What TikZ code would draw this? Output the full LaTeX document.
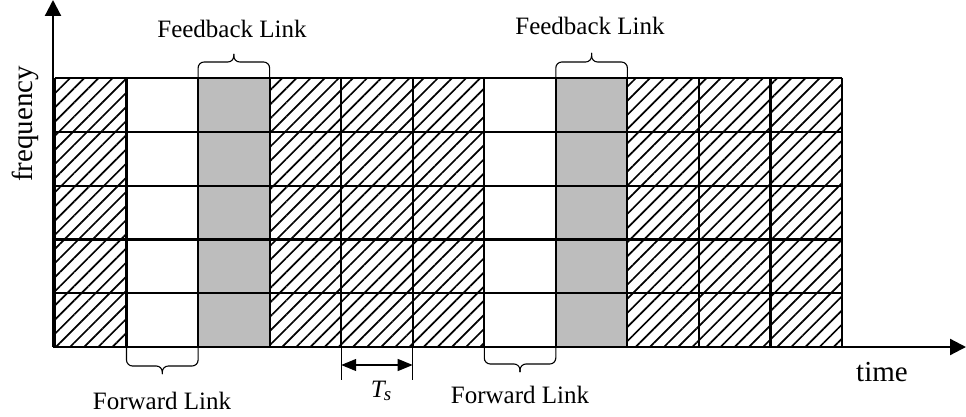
\documentclass[tikz,border=0pt]{standalone}
\usepackage{fontspec}
\setmainfont{Liberation Serif}
\usetikzlibrary{arrows.meta,patterns.meta}
\begin{document}
\begin{tikzpicture}[x=1pt,y=-1pt,
  gridline/.style={line width=2.2pt},
  hatchcell/.style={pattern={Lines[angle=45,distance=10pt,line width=1.7pt]}},
  graycell/.style={fill=black!26},
  axis/.style={line width=2.2pt,-{Triangle[length=16pt,width=16pt]}},
  bracestyle/.style={line width=1.1pt,rounded corners=6pt},
  dimline/.style={line width=1.3pt},
  dimarrow/.style={line width=1.3pt,{Triangle[length=15pt,width=12pt]}-{Triangle[length=15pt,width=12pt]}},
  lbl/.style={font=\fontsize{25}{30}\selectfont, inner sep=0pt},
  axlbl/.style={font=\fontsize{29}{34}\selectfont, inner sep=0pt}]
\useasboundingbox (0,0) rectangle (966,417);
% cells
\path[hatchcell] (55,78) rectangle (126.5,347);
\path[hatchcell] (269.6,78) rectangle (484.3,347);
\path[hatchcell] (627.4,78) rectangle (842,347);
\fill[graycell] (198.1,78) rectangle (269.6,347);
\fill[graycell] (555.8,78) rectangle (627.4,347);
% grid lines
\foreach \i in {0,...,11} \draw[gridline] (55+\i*71.545,78) -- (55+\i*71.545,347);
\foreach \j in {0,...,4} \draw[gridline] (55,78+\j*53.8) -- (842,78+\j*53.8);
% axes
\coordinate (O) at (53,347);
\coordinate (ytip) at (53,0);
\coordinate (xtip) at (966,347);
\draw[axis] (O) -- (ytip);
\draw[axis] (O) -- (xtip);
% braces
\draw[bracestyle] (198.1,78) -- (198.1,62) -- (233.8,62) -- (233.8,54);
\draw[bracestyle] (269.6,78) -- (269.6,62) -- (233.8,62) -- (233.8,54);
\draw[bracestyle] (555.8,78) -- (555.8,62) -- (591.6,62) -- (591.6,53);
\draw[bracestyle] (627.4,78) -- (627.4,62) -- (591.6,62) -- (591.6,53);
\draw[bracestyle] (126.5,347) -- (126.5,366) -- (162.3,366) -- (162.3,374);
\draw[bracestyle] (198.1,347) -- (198.1,366) -- (162.3,366) -- (162.3,374);
\draw[bracestyle] (484.3,347) -- (484.3,364) -- (520,364) -- (520,372);
\draw[bracestyle] (555.8,347) -- (555.8,364) -- (520,364) -- (520,372);
% Ts dimension
\coordinate (tsa) at (341.2,347);
\coordinate (tsab) at (341.2,380);
\coordinate (tsb) at (412.7,347);
\coordinate (tsbb) at (412.7,380);
\coordinate (tsal) at (341.2,365);
\coordinate (tsbl) at (412.7,365);
\draw[dimline] (tsa) -- (tsab);
\draw[dimline] (tsb) -- (tsbb);
\draw[dimarrow] (tsal) -- (tsbl);
% labels
\node[lbl] (fb1) at (232,29) {Feedback Link};
\node[lbl] (fb2) at (590,26) {Feedback Link};
\node[lbl] (fw1) at (162,401) {Forward Link};
\node[lbl] (fw2) at (520,395) {Forward Link};
\node[axlbl, rotate=90] (freq) at (25,124) {frequency};
\node[axlbl] (time) at (882,372) {time};
\node[lbl] (ts) at (381,391) {\textit{T\kern-1pt\raisebox{-3pt}{\fontsize{19}{20}\selectfont s}}};
\end{tikzpicture}
\end{document}
